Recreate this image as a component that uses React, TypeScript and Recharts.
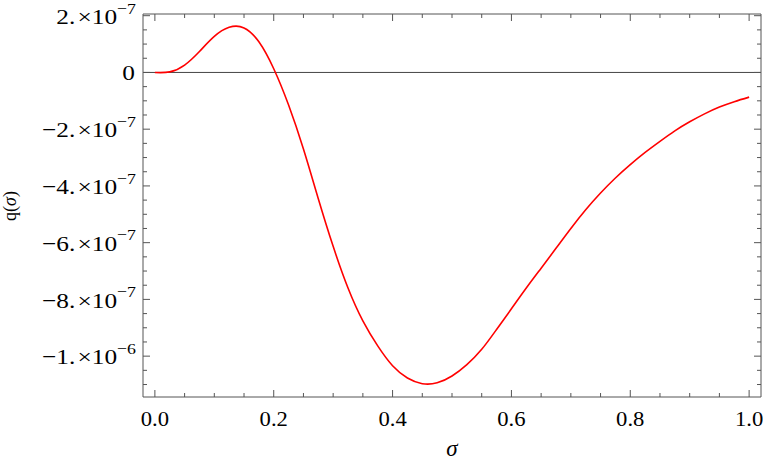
import {
  LineChart,
  Line,
  XAxis,
  YAxis,
  ReferenceLine,
} from "recharts";

// values
const sigma = [
  0, 0.025, 0.05, 0.075, 0.1, 0.125, 0.15, 0.175, 0.2, 0.225, 0.25, 0.275,
  0.3, 0.325, 0.35, 0.375, 0.4, 0.425, 0.45, 0.475, 0.5, 0.525, 0.55, 0.575,
  0.6, 0.625, 0.65, 0.675, 0.7, 0.725, 0.75, 0.775, 0.8, 0.825, 0.85, 0.875,
  0.9, 0.925, 0.95, 0.975, 1.0,
];

const q = [
  0, 2e-9, 2.6e-8, 7.4e-8, 1.27e-7, 1.59e-7, 1.57e-7, 1.08e-7, 1.3e-8,
  -1.15e-7, -2.7e-7, -4.45e-7, -6.13e-7, -7.6e-7, -8.76e-7, -9.64e-7,
  -1.034e-6, -1.077e-6, -1.097e-6, -1.094e-6, -1.07e-6, -1.03e-6, -9.76e-7,
  -9.06e-7, -8.33e-7, -7.6e-7, -6.9e-7, -6.2e-7, -5.5e-7, -4.84e-7, -4.25e-7,
  -3.72e-7, -3.25e-7, -2.82e-7, -2.43e-7, -2.06e-7, -1.74e-7, -1.46e-7,
  -1.22e-7, -1.03e-7, -8.7e-8,
];

// ticks every 0.05, labels every 0.2
const xTicks = [
  0, 0.05, 0.1, 0.15, 0.2, 0.25, 0.3, 0.35, 0.4, 0.45, 0.5, 0.55, 0.6, 0.65,
  0.7, 0.75, 0.8, 0.85, 0.9, 0.95, 1.0,
];

// ticks every 5e-8, labels every 2e-7
const yTicks = [
  -1.1e-6, -1.05e-6, -1e-6, -9.5e-7, -9e-7, -8.5e-7, -8e-7, -7.5e-7, -7e-7,
  -6.5e-7, -6e-7, -5.5e-7, -5e-7, -4.5e-7, -4e-7, -3.5e-7, -3e-7, -2.5e-7,
  -2e-7, -1.5e-7, -1e-7, -5e-8, 0, 5e-8, 1e-7, 1.5e-7, 2e-7,
];

const data = sigma.map((s, i) => ({ s, q: q[i] }));

const FONT = "'Liberation Serif', 'Times New Roman', serif";
const SX = 1.15;
const FRAME = "#555";
const MAJOR = 7;
const MINOR = 4;

const isMajor = (v: number, step: number) =>
  Math.abs(v / step - Math.round(v / step)) < 1e-6;

function BottomTick(props: any) {
  const { x, y, payload } = props;
  const v = payload.value;
  const major = isMajor(v, 0.2);
  return (
    <g>
      <line x1={x} x2={x} y1={y} y2={y - (major ? MAJOR : MINOR)} stroke={FRAME} />
      {major && (
        <text
          transform={`translate(${x},${y + 29}) scale(1.03,1)`}
          textAnchor="middle"
          fontFamily={FONT}
          fontSize={22}
          fill="#000"
        >
          {v.toFixed(1)}
        </text>
      )}
    </g>
  );
}

function TopTick(props: any) {
  const { x, y, payload } = props;
  const major = isMajor(payload.value, 0.2);
  return (
    <line x1={x} x2={x} y1={y} y2={y + (major ? MAJOR : MINOR)} stroke={FRAME} />
  );
}

function LeftTick(props: any) {
  const { x, y, payload } = props;
  const v = payload.value;
  const major = isMajor(v, 2e-7);
  let label = null;
  if (major) {
    if (Math.abs(v) < 1e-12) {
      label = (
        <text
          transform={`translate(${x - 8},${y + 7.5}) scale(${SX},1)`}
          textAnchor="end"
          fontFamily={FONT}
          fontSize={22}
          fill="#000"
        >
          0
        </text>
      );
    } else {
      const e = Math.floor(Math.log10(Math.abs(v)) + 1e-9);
      const m = Math.round(v / Math.pow(10, e));
      const mant = (m < 0 ? "\u2212" : "") + Math.abs(m) + ".";
      label = (
        <text
          transform={`translate(${x - 7},${y + 8.3}) scale(${SX},1)`}
          textAnchor="end"
          fontFamily={FONT}
          fontSize={22}
          fill="#000"
        >
          <tspan>{mant}</tspan>
          <tspan dx={2}>{"\u00d7"}</tspan>
          <tspan>10</tspan>
          <tspan fontSize={15.5} dy={-10.5}>
            {"\u2212" + Math.abs(e)}
          </tspan>
        </text>
      );
    }
  }
  return (
    <g>
      <line x1={x} x2={x + (major ? MAJOR : MINOR)} y1={y} y2={y} stroke={FRAME} />
      {label}
    </g>
  );
}

function RightTick(props: any) {
  const { x, y, payload } = props;
  const major = isMajor(payload.value, 2e-7);
  return (
    <line x1={x} x2={x - (major ? MAJOR : MINOR)} y1={y} y2={y} stroke={FRAME} />
  );
}

export default function App() {
  return (
    <div
      style={{
        position: "absolute",
        left: 0,
        top: 0,
        width: 763,
        height: 465,
        background: "#fff",
      }}
    >
      <LineChart
        width={763}
        height={465}
        data={data}
        margin={{ top: 13, right: 1, bottom: 0, left: 0 }}
      >
        <XAxis
          xAxisId="b"
          type="number"
          dataKey="s"
          domain={[-0.02, 1.02]}
          allowDataOverflow
          ticks={xTicks}
          interval={0}
          height={68}
          stroke={FRAME}
          tickLine={false}
          tickSize={0}
          tickMargin={0}
          tick={<BottomTick />}
          label={{
            content: () => (
              <text
                x={452}
                y={456}
                textAnchor="middle"
                fontFamily={FONT}
                fontSize={23}
                fontStyle="italic"
                fill="#000"
              >
                σ
              </text>
            ),
          }}
        />
        <XAxis
          xAxisId="t"
          orientation="top"
          type="number"
          dataKey="s"
          domain={[-0.02, 1.02]}
          allowDataOverflow
          ticks={xTicks}
          interval={0}
          height={1}
          stroke={FRAME}
          tickLine={false}
          tickSize={0}
          tickMargin={0}
          tick={<TopTick />}
        />
        <YAxis
          yAxisId="l"
          type="number"
          domain={[-1.144e-6, 2.06e-7]}
          allowDataOverflow
          ticks={yTicks}
          interval={0}
          width={143}
          stroke={FRAME}
          tickLine={false}
          tickSize={0}
          tickMargin={0}
          tick={<LeftTick />}
          label={{
            content: () => (
              <text
                transform="translate(16,206) rotate(-90)"
                textAnchor="middle"
                fontFamily={FONT}
                fontSize={18}
                fill="#000"
              >
                <tspan>q(</tspan>
                <tspan fontStyle="italic">σ</tspan>
                <tspan>)</tspan>
              </text>
            ),
          }}
        />
        <YAxis
          yAxisId="r"
          orientation="right"
          type="number"
          domain={[-1.144e-6, 2.06e-7]}
          allowDataOverflow
          ticks={yTicks}
          interval={0}
          width={1}
          stroke={FRAME}
          tickLine={false}
          tickSize={0}
          tickMargin={0}
          tick={<RightTick />}
        />
        <ReferenceLine xAxisId="b" yAxisId="l" y={0} stroke="#444" strokeWidth={1} />
        <Line
          xAxisId="b"
          yAxisId="l"
          type="natural"
          dataKey="q"
          stroke="#ff0000"
          strokeWidth={1.6}
          dot={false}
          isAnimationActive={false}
        />
      </LineChart>
    </div>
  );
}
